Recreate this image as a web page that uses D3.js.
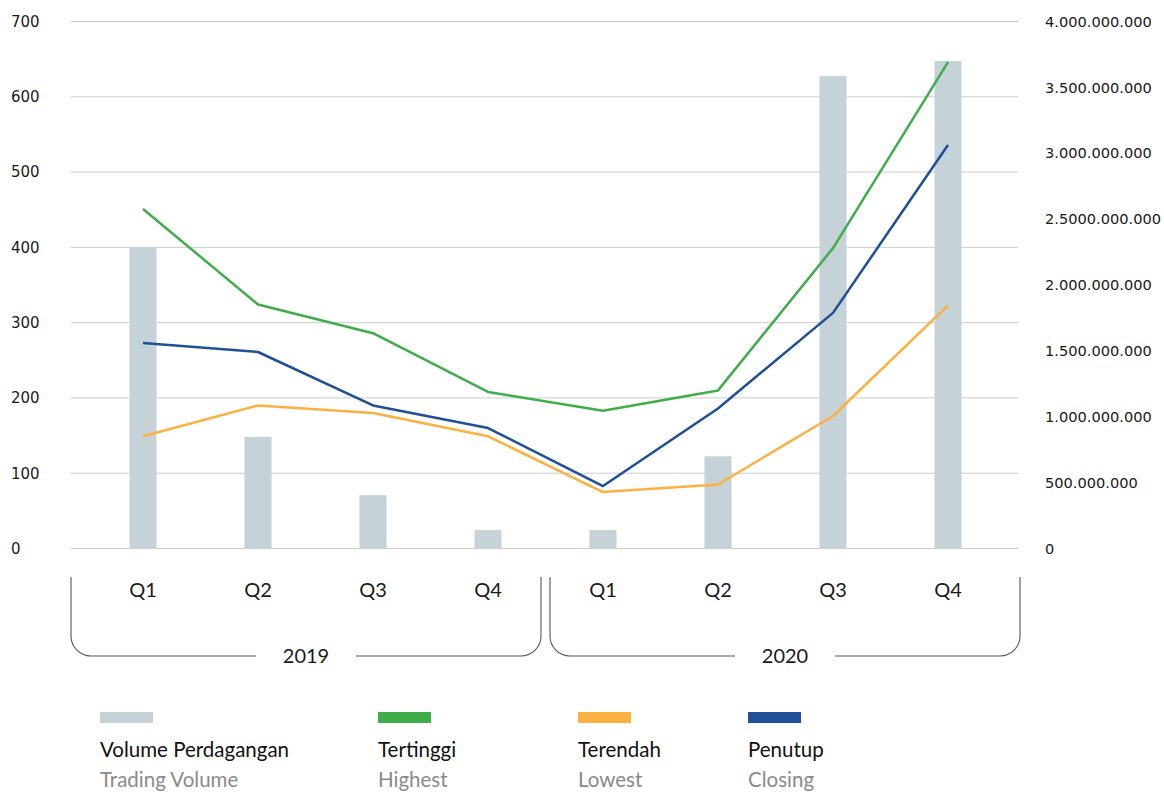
<!DOCTYPE html>
<html>
<head>
<meta charset="utf-8">
<script src="https://cdn.jsdelivr.net/npm/d3@7"></script>
<style>
  html, body { margin: 0; padding: 0; background: #ffffff; }
  svg { display: block; }
</style>
</head>
<body>
<svg id="chart" width="1164" height="792"></svg>
<script>
// Quarterly share price (left axis) and trading volume (right axis), 2019–2020
const years = ["2019", "2020"];
const quarters = ["Q1", "Q2", "Q3", "Q4"];
const periods = ["2019-Q1", "2019-Q2", "2019-Q3", "2019-Q4", "2020-Q1", "2020-Q2", "2020-Q3", "2020-Q4"];

const tradingVolume = [2285000000, 847000000, 405000000, 140000000, 140000000, 700000000, 3585000000, 3700000000];
const highest = [451, 324, 286, 208, 183, 210, 399, 646];
const lowest  = [149, 190, 180, 149, 75, 85, 176, 323];
const closing = [273, 261, 190, 160, 83, 186, 313, 536];

const leftTicks = [0, 100, 200, 300, 400, 500, 600, 700];
const rightTicks = [0, 500000000, 1000000000, 1500000000, 2000000000, 2500000000, 3000000000, 3500000000, 4000000000];
const rightTickLabels = ["0", "500.000.000", "1.000.000.000", "1.500.000.000", "2.000.000.000",
  "2.5000.000.000", "3.000.000.000", "3.500.000.000", "4.000.000.000"];

const legendItems = [
  { id: "Volume Perdagangan", en: "Trading Volume", color: "#c5d3d8" },
  { id: "Tertinggi", en: "Highest", color: "#3fae4a" },
  { id: "Terendah", en: "Lowest", color: "#fbb040" },
  { id: "Penutup", en: "Closing", color: "#1f4f97" }
];

const svg = d3.select("#chart");
const plotTop = 21.5, plotBottom = 548.5, gridLeft = 71, gridRight = 1018;

const x = d3.scaleBand().domain(periods).range([85.5, 1005.5])
  .paddingInner(0.765).paddingOuter(0.3825);
const cx = k => x(k) + x.bandwidth() / 2;

const yLeft = d3.scaleLinear().domain([0, 700]).range([plotBottom, plotTop]);
const yRight = d3.scaleLinear().domain([0, 4000000000]).range([plotBottom, plotTop]);

const numFont = "'DejaVu Sans', Verdana, sans-serif";
const textFont = "Lato, 'Noto Sans', sans-serif";

// Horizontal gridlines at the left-axis ticks
svg.append("g").selectAll("line").data(leftTicks).join("line")
  .attr("x1", gridLeft).attr("x2", gridRight)
  .attr("y1", d => yLeft(d)).attr("y2", d => yLeft(d))
  .attr("stroke", "#cccccc").attr("stroke-width", 1);

// Left axis (price)
const leftAxis = svg.append("g").attr("transform", "translate(11,0)")
  .call(d3.axisLeft(yLeft).tickValues(leftTicks).tickSize(0).tickPadding(0));
leftAxis.select(".domain").remove();
leftAxis.selectAll("text").attr("text-anchor", "start").attr("x", 0)
  .attr("font-family", numFont).attr("font-size", 15).attr("fill", "#1a1a1a");

// Right axis (volume)
const rightAxis = svg.append("g").attr("transform", "translate(1045,0)")
  .call(d3.axisRight(yRight).tickValues(rightTicks).tickSize(0).tickPadding(0)
    .tickFormat((d, i) => rightTickLabels[i]));
rightAxis.select(".domain").remove();
rightAxis.selectAll("text").attr("x", 0)
  .attr("font-family", numFont).attr("font-size", 14.6).attr("fill", "#1a1a1a");

// Volume bars
svg.append("g").selectAll("rect").data(periods).join("rect")
  .attr("x", d => x(d))
  .attr("width", x.bandwidth())
  .attr("y", (d, i) => yRight(tradingVolume[i]))
  .attr("height", (d, i) => plotBottom - yRight(tradingVolume[i]))
  .attr("fill", "#c5d3d8");

// Price lines (closing drawn last, above lowest)
const line = d3.line().x((d, i) => cx(periods[i])).y(d => yLeft(d));
[[highest, "#3fae4a"], [lowest, "#fbb040"], [closing, "#1f4f97"]].forEach(([vals, col]) => {
  svg.append("path").datum(vals).attr("d", line)
    .attr("fill", "none").attr("stroke", col).attr("stroke-width", 2.5)
    .attr("stroke-linejoin", "round");
});

// Quarter labels
svg.append("g").selectAll("text").data(periods).join("text")
  .attr("x", d => cx(d)).attr("y", 597)
  .attr("text-anchor", "middle")
  .attr("font-family", textFont).attr("font-size", 20).attr("fill", "#1a1a1a")
  .text(d => d.split("-")[1]);

// Year brackets
const bracketTop = 577, bracketBottom = 656, r = 20, gap = 50;
years.forEach((yr, yi) => {
  const ks = periods.filter(p => p.startsWith(yr));
  const first = cx(ks[0]), last = cx(ks[ks.length - 1]);
  let left, right;
  if (yi === 0) {
    left = first - 72;
    right = (last + cx(periods[periods.indexOf(ks[ks.length - 1]) + 1])) / 2 - 4.5;
  } else {
    left = (first + cx(periods[periods.indexOf(ks[0]) - 1])) / 2 + 4.5;
    right = last + 72;
  }
  const mid = (left + right) / 2;
  const p = d3.path();
  p.moveTo(left, bracketTop);
  p.lineTo(left, bracketBottom - r);
  p.arcTo(left, bracketBottom, left + r, bracketBottom, r);
  p.lineTo(mid - gap, bracketBottom);
  p.moveTo(mid + gap, bracketBottom);
  p.lineTo(right - r, bracketBottom);
  p.arcTo(right, bracketBottom, right, bracketBottom - r, r);
  p.lineTo(right, bracketTop);
  svg.append("path").attr("d", p.toString())
    .attr("fill", "none").attr("stroke", "#555555").attr("stroke-width", 1.1);
  svg.append("text").attr("x", mid).attr("y", 663)
    .attr("text-anchor", "middle")
    .attr("font-family", textFont).attr("font-size", 20).attr("fill", "#1a1a1a")
    .text(yr);
});

// Legend
const legendX = [100, 378, 578, 748];
const lg = svg.append("g").selectAll("g").data(legendItems).join("g")
  .attr("transform", (d, i) => `translate(${legendX[i]},0)`);
lg.append("rect").attr("x", 0).attr("y", 712).attr("width", 53).attr("height", 11)
  .attr("fill", d => d.color);
lg.append("text").attr("x", 0).attr("y", 757)
  .attr("font-family", textFont).attr("font-size", 20.5).attr("fill", "#111111")
  .text(d => d.id);
lg.append("text").attr("x", 0).attr("y", 787)
  .attr("font-family", textFont).attr("font-size", 20.5).attr("fill", "#8a8a8a")
  .text(d => d.en);
</script>
</body>
</html>
